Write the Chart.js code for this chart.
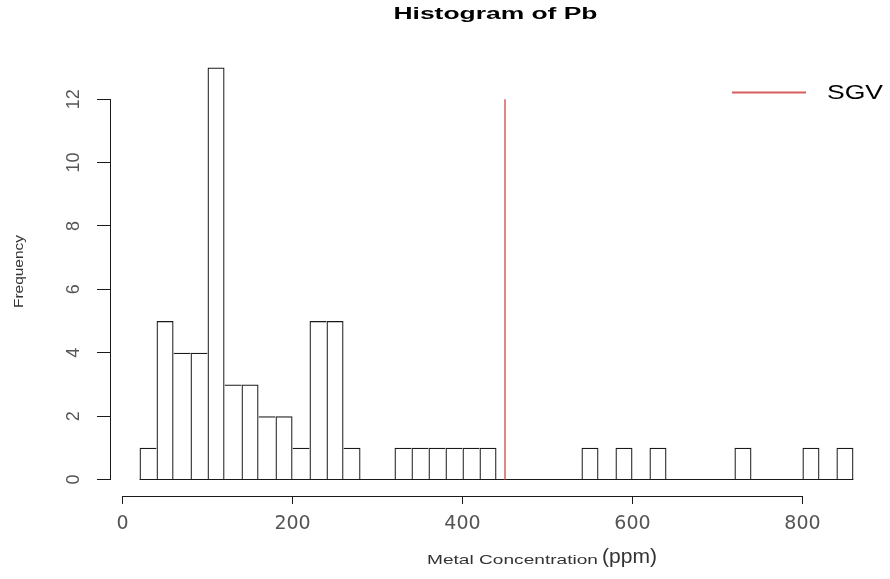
<!DOCTYPE html>
<html><head><meta charset="utf-8">
<script src="https://cdn.jsdelivr.net/npm/chart.js@4"></script>
<style>html,body{margin:0;padding:0;background:#fff;} canvas{display:block;}</style>
</head><body>
<canvas id="c" width="890" height="579"></canvas>
<script>
// ---- data ----
const breaks = [20,40,60,80,100,120,140,160,180,200,220,240,260,280,300,320,340,360,380,400,420,440,460,480,500,520,540,560,580,600,620,640,660,680,700,720,740,760,780,800,820,840,860];
const counts = [1,5,4,4,13,3,3,2,2,1,5,5,1,0,0,1,1,1,1,1,1,0,0,0,0,0,1,0,1,0,1,0,0,0,0,1,0,0,0,1,0,1];
const xTicks = [0,200,400,600,800];
const yTicks = [0,2,4,6,8,10,12];
const sgvValue = 450;
const sgvTop = 12;
const chartTitle = 'Histogram of Pb';
const xLabel = 'Metal Concentration';
const xUnit = '(ppm)';
const yLabel = 'Frequency';
const legendLabel = 'SGV';

const SANS = '"Liberation Sans", Arial, sans-serif';
const SGV_COLOR = '#d65f5f';
const INK = '#1a1a1a';

const mids = counts.map((c, i) => (breaks[i] + breaks[i + 1]) / 2);

function stretched(ctx, text, font, x, y, width, align, rot) {
  ctx.save();
  ctx.font = font;
  const w = ctx.measureText(text).width;
  ctx.translate(x, y);
  if (rot) ctx.rotate(rot);
  ctx.scale(width / w, 1);
  ctx.textAlign = align;
  ctx.textBaseline = 'alphabetic';
  ctx.fillText(text, 0, 0);
  ctx.restore();
}

const rPlot = {
  id: 'rplot',
  afterDraw(chart) {
    const {ctx, chartArea: a, scales: {x, y}} = chart;
    ctx.save();
    ctx.strokeStyle = INK;
    ctx.lineWidth = 1;
    // R-style axis lines spanning first..last tick
    const yb = Math.round(a.bottom) + 0.5;
    ctx.beginPath();
    ctx.moveTo(x.getPixelForValue(xTicks[0]), yb);
    ctx.lineTo(x.getPixelForValue(xTicks[xTicks.length - 1]), yb);
    ctx.stroke();
    const xl = Math.round(a.left) - 0.5;
    ctx.beginPath();
    ctx.moveTo(xl, y.getPixelForValue(yTicks[0]));
    ctx.lineTo(xl, y.getPixelForValue(yTicks[yTicks.length - 1]));
    ctx.stroke();

    // title
    ctx.fillStyle = '#000';
    stretched(ctx, chartTitle, 'bold 16px ' + SANS, (a.left + a.right) / 2 - 1, 19, 204, 'center');
    // x label
    ctx.fillStyle = '#333';
    stretched(ctx, xLabel, '13.5px ' + SANS, 427, 564, 171, 'left');
    stretched(ctx, xUnit, '21px ' + SANS, 602, 563, 55, 'left');
    // y label
    stretched(ctx, yLabel, '13px ' + SANS, 23.3, 271.5, 73, 'center', -Math.PI / 2);

    // legend
    ctx.strokeStyle = SGV_COLOR;
    ctx.lineWidth = 2;
    ctx.beginPath();
    ctx.moveTo(732, 92.5);
    ctx.lineTo(806, 92.5);
    ctx.stroke();
    ctx.fillStyle = '#000';
    stretched(ctx, legendLabel, '19.5px ' + SANS, 827, 99, 56, 'left');
    ctx.restore();
  }
};

new Chart(document.getElementById('c'), {
  type: 'bar',
  data: {
    datasets: [
      {
        type: 'line', label: 'zero',
        data: [{x: breaks[0], y: 0}, {x: breaks[breaks.length - 1], y: 0}],
        borderColor: INK, borderWidth: 1.2, pointRadius: 0, order: 3
      },
      {
        type: 'bar', label: 'Pb',
        data: mids.map((m, i) => ({x: m, y: counts[i]})),
        backgroundColor: 'rgba(0,0,0,0)',
        borderColor: INK,
        borderSkipped: false,
        inflateAmount: 0,
        barPercentage: 1,
        categoryPercentage: 1,
        borderWidth: (ctx) => {
          const i = ctx.dataIndex, c = counts[i];
          const prev = i > 0 ? counts[i - 1] : 0;
          const next = i < counts.length - 1 ? counts[i + 1] : 0;
          const w = 1.25;
          return {top: w, bottom: 0, left: prev <= c ? w : 0, right: next < c ? w : 0};
        },
        order: 2
      },
      {
        type: 'line', label: legendLabel,
        data: [{x: sgvValue, y: 0}, {x: sgvValue, y: sgvTop}],
        borderColor: SGV_COLOR, borderWidth: 1.5, pointRadius: 0, order: 1
      }
    ]
  },
  options: {
    responsive: false,
    animation: false,
    events: [],
    layout: {padding: {left: 0, right: 8, top: 51, bottom: 0}},
    plugins: {legend: {display: false}, title: {display: false}, tooltip: {enabled: false}},
    scales: {
      x: {
        type: 'linear', min: -13.6, max: 893.6, offset: false,
        afterBuildTicks: s => { s.ticks = xTicks.map(v => ({value: v})); },
        afterFit: s => { s.height = 83; },
        grid: {display: true, drawOnChartArea: false, drawTicks: true, tickLength: 8, color: INK, offset: false},
        border: {display: false},
        ticks: {
          autoSkip: false, maxRotation: 0, minRotation: 0, padding: 9, color: '#555',
          font: {family: '"DejaVu Sans", sans-serif', size: 19},
          callback: v => String(v)
        }
      },
      y: {
        type: 'linear', min: -0.52, max: 13.52,
        afterBuildTicks: s => { s.ticks = yTicks.map(v => ({value: v})); },
        afterFit: s => { s.width = 111; },
        grid: {display: true, drawOnChartArea: false, drawTicks: true, tickLength: 14, color: INK},
        border: {display: false},
        ticks: {
          autoSkip: false, minRotation: 90, maxRotation: 90, crossAlign: 'center', padding: 13,
          color: '#555', font: {family: SANS, size: 18},
          callback: v => String(v)
        }
      }
    }
  },
  plugins: [rPlot]
});
</script>
</body></html>
